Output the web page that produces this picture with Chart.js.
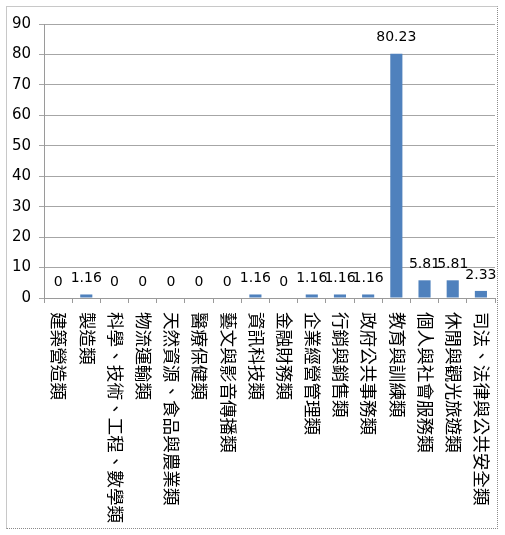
<!DOCTYPE html>
<html>
<head>
<meta charset="utf-8">
<script src="https://cdn.jsdelivr.net/npm/chart.js@4/dist/chart.umd.min.js"></script>
<style>
  body { margin: 0; background: #fff; }
  #box {
    position: absolute; left: 6px; top: 6px; width: 490px; height: 521px;
    border-left: 1px solid #c8c8c8; border-top: 1px solid #c8c8c8;
    border-right: 1px dotted #8a8a8a; border-bottom: 1px dotted #8a8a8a;
    background: #fff;
  }
</style>
</head>
<body>
<div id="box"><canvas id="chart"></canvas></div>
<script>
var categories = [
  "建築營造類", "製造類", "科學、技術、工程、數學類", "物流運輸類",
  "天然資源、食品與農業類", "醫療保健類", "藝文與影音傳播類", "資訊科技類",
  "金融財務類", "企業經營管理類", "行銷與銷售類", "政府公共事務類",
  "教育與訓練類", "個人與社會服務類", "休閒與觀光旅遊類", "司法、法律與公共安全類"
];
var values = [0, 1.16, 0, 0, 0, 0, 0, 1.16, 0, 1.16, 1.16, 1.16, 80.23, 5.81, 5.81, 2.33];

// etiquetas del eje x giradas 90 grados (leen de arriba a abajo)
var verticalLabels = {
  id: "verticalLabels",
  afterDraw: function (chart) {
    var ctx = chart.ctx;
    var xs = chart.scales.x;
    ctx.save();
    ctx.font = '17.6px "Noto Sans CJK TC"';
    ctx.fillStyle = "#000";
    ctx.textAlign = "left";
    ctx.textBaseline = "middle";
    categories.forEach(function (c, i) {
      ctx.save();
      ctx.translate(xs.getPixelForValue(i) + 1, xs.top + 14);
      ctx.rotate(Math.PI / 2);
      ctx.fillText(c, 0, 0);
      ctx.restore();
    });
    ctx.restore();
  }
};

var barValues = {
  id: "barValues",
  afterDatasetsDraw: function (chart) {
    var ctx = chart.ctx;
    ctx.save();
    ctx.font = '14px "DejaVu Sans"';
    ctx.fillStyle = "#000";
    ctx.textAlign = "center";
    ctx.textBaseline = "middle";
    chart.getDatasetMeta(0).data.forEach(function (bar, i) {
      ctx.fillText(String(values[i]), bar.x, bar.y - 16);
    });
    ctx.restore();
  }
};

new Chart("chart", {
  type: "bar",
  data: {
    labels: categories,
    datasets: [{
      data: values,
      backgroundColor: "#4f81bd",
      barPercentage: 0.43,
      categoryPercentage: 1
    }]
  },
  options: {
    responsive: true,
    maintainAspectRatio: false,
    animation: false,
    layout: { padding: { top: 17, right: 2, left: 0, bottom: 0 } },
    plugins: {
      legend: { display: false },
      tooltip: { enabled: false }
    },
    scales: {
      x: {
        grid: { drawOnChartArea: false, drawTicks: true, tickLength: 5, color: "#9a9a9a", offset: true },
        border: { color: "#9a9a9a" },
        ticks: { display: false },
        afterFit: function (s) { s.height = 230; }
      },
      y: {
        min: 0,
        max: 90,
        ticks: {
          stepSize: 10,
          padding: 8,
          color: "#000",
          font: { family: "DejaVu Sans", size: 15 }
        },
        grid: { color: "#a6a6a6", tickLength: 5 },
        border: { color: "#9a9a9a" },
        afterFit: function (s) { s.width = 37; }
      }
    }
  },
  plugins: [verticalLabels, barValues]
});
</script>
</body>
</html>
